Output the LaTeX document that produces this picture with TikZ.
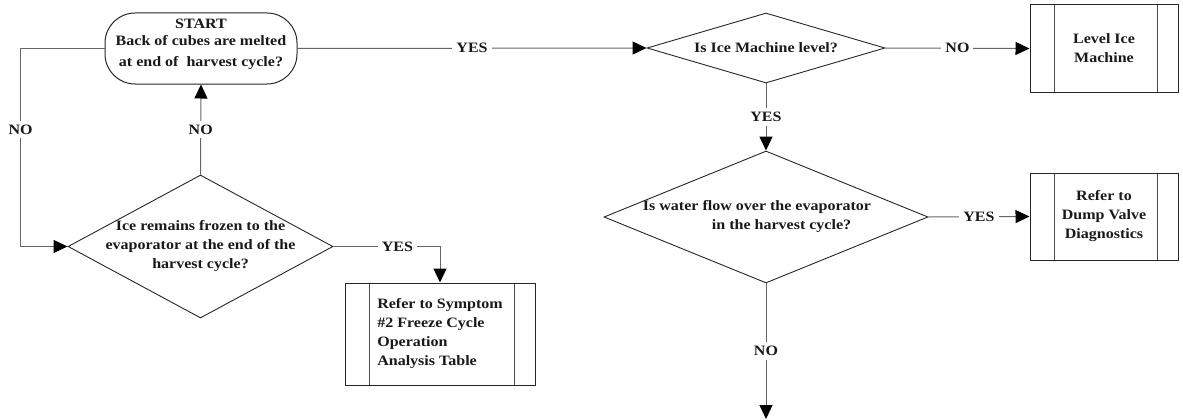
\documentclass[tikz,border=0pt]{standalone}
\usepackage{fontspec}
\setmainfont{Liberation Serif}[FakeStretch=1.12]
\usepackage{tikz}
\usetikzlibrary{arrows.meta,shapes.geometric}

\begin{document}
\begin{tikzpicture}[x=1pt,y=-1pt,
  every node/.style={font=\bfseries\fontsize{14.3}{19}\selectfont,text=black!90},
  terminal/.style={draw=black!85,line width=1pt,rounded corners=30pt,
    minimum width=192pt,minimum height=71pt,inner sep=0pt},
  decision/.style={draw=black!85,line width=0.9pt,diamond,inner sep=0pt},
  procbox/.style={draw=black!85,line width=1pt,align=center,inner sep=0pt,
    minimum width=148pt,minimum height=87pt,
    path picture={
      \draw[black!70,line width=1pt]
        ([xshift=24pt]path picture bounding box.north west) --
        ([xshift=24pt]path picture bounding box.south west);
      \draw[black!70,line width=1pt]
        ([xshift=-21pt]path picture bounding box.north east) --
        ([xshift=-21pt]path picture bounding box.south east);}},
  flow/.style={draw=black!60,line width=1pt,
    -{Triangle[length=14pt,width=13pt,color=black]}},
  lbl/.style={fill=white,inner sep=4pt}]
  \useasboundingbox (0,0) rectangle (1183,420);

  % Ablauf: Abtauen im Erntezyklus pruefen.
  \node[terminal] (start) at (201,48.5) {};
  \node[align=center,yshift=4pt] (start-text) at (start.center)
    {START\\[-2pt]Back of cubes are melted\\[2pt]at end of~~harvest cycle?};
  \node[decision,minimum width=265pt,minimum height=143pt] (q1) at (200.5,246.5) {};
  \node[align=center] (q1-text) at (q1.center)
    {Ice remains frozen to the\\evaporator at the end of the\\harvest cycle?};
  \node[procbox,align=left,minimum width=190pt,minimum height=102pt]
    (sym) at (440,334) {Refer to Symptom\\\#2 Freeze Cycle\\Operation\\Analysis Table};

  \node[decision,minimum width=238pt,minimum height=70pt] (q2) at (766,48) {};
  \node (q2-text) at (q2.center) {Is Ice Machine level?};
  \node[procbox] (lvl) at (1104,48.5) {Level Ice\\Machine};
  \node[decision,minimum width=324pt,minimum height=132pt] (q3) at (766,217) {};
  \node[align=left] (q3-text) at (q3.center)
    {Is water flow over the evaporator\hspace*{18pt}\\\hspace*{69pt}in the harvest cycle?};
  \node[procbox] (dump) at (1104,216.5) {Refer to\\Dump Valve\\Diagnostics};
  \coordinate (exit) at (766,419);

  \draw[flow] (start.east) -- node[lbl] (yes1) {YES} (q2.west);
  \draw[flow] (q2.east) -- node[lbl] (no1) {NO} (lvl.west);
  \draw[flow] (q2.south) -- node[lbl] (yes2) {YES} (q3.north);
  \draw[flow] (q3.east) -- node[lbl] (yes3) {YES} (dump.west);
  \draw[flow] (q3.south) -- node[lbl] (no2) {NO} (exit);
  \draw[flow] (q1.north) -- node[lbl] (no3) {NO} (start.south);
  \draw[flow] (start.west) -| node[lbl,pos=0.705] (no4) {NO}
    ([xshift=-47pt]q1.west) -- (q1.west);
  \draw[flow] (q1.east) -| node[lbl,pos=0.3] (yes4) {YES} (sym.north);
\end{tikzpicture}
\end{document}
